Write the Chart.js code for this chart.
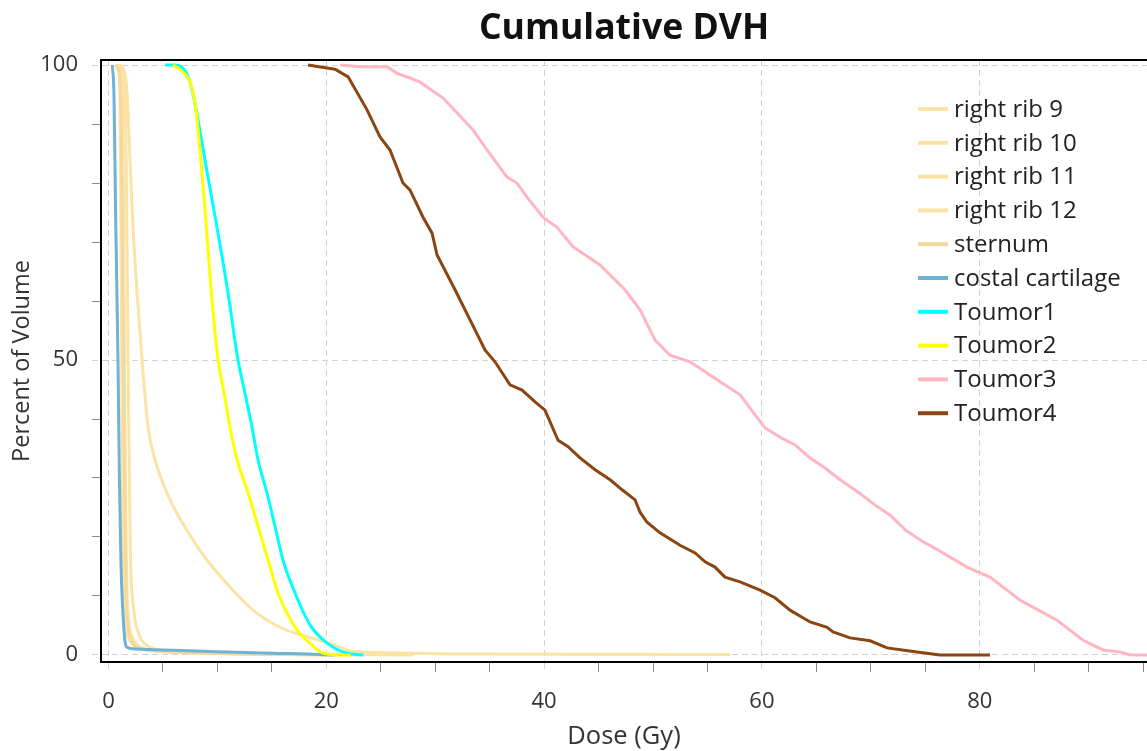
<!DOCTYPE html>
<html>
<head>
<meta charset="utf-8">
<title>Cumulative DVH</title>
<script src="https://cdn.jsdelivr.net/npm/chart.js@4.4.0/dist/chart.umd.min.js"></script>
<style>
  html, body { margin: 0; padding: 0; background: #fff; }
</style>
</head>
<body>
<canvas id="dvh" width="1147" height="751"></canvas>
<script>
// structure names and line colours (legend order)
const seriesNames = ['right rib 9', 'right rib 10', 'right rib 11', 'right rib 12', 'sternum',
    'costal cartilage', 'Toumor1', 'Toumor2', 'Toumor3', 'Toumor4'];
const seriesColors = ['#FBE3A6', '#FBE3A6', '#FBE3A6', '#FBE3A6', '#F4D89E',
    '#6DB3D5', '#00FFFF', '#FFFF00', '#FFB6C1', '#8B4513'];
// smooth organ curves, stepped tumour 3/4 curves
const smoothSeries = [true, true, true, true, true, true, true, true, false, false];

// dose (Gy) / percent volume pairs
const rib9Dose = [0.9, 1.33, 1.7, 1.97, 2.25, 2.62, 3.08, 3.63, 4.27, 5.65, 7.02, 9.04, 11.16, 13.27, 15.75, 18.23, 20.6, 22.2, 24.0, 26.8, 31.4, 45.0, 57.1];
const rib9Vol  = [100, 99.5, 95.3, 83.9, 72.5, 61.4, 50, 38.6, 33.1, 26.3, 21.7, 16.1, 11.5, 7.6, 4.7, 3.1, 1.8, 0.7, 0.45, 0.34, 0.17, 0.12, 0.08];
const rib10Dose = [0.6, 0.9, 1.05, 1.15, 1.25, 1.35, 1.5, 1.8, 2.4, 3.5, 6, 12, 20];
const rib10Vol  = [100, 99, 95, 70, 40, 15, 6, 3, 1.5, 0.9, 0.5, 0.2, 0];
const rib11Dose = [0.75, 1.1, 1.3, 1.4, 1.5, 1.65, 1.85, 2.2, 2.8, 4, 7, 14, 23];
const rib11Vol  = [100, 99, 93, 70, 40, 15, 6, 3, 1.5, 0.8, 0.4, 0.15, 0];
const rib12Dose = [0.9, 1.3, 1.55, 1.7, 1.85, 2.0, 2.3, 2.8, 3.4, 4.5, 8, 16, 28];
const rib12Vol  = [100, 99, 94, 70, 40, 18, 8, 3.5, 1.8, 0.9, 0.4, 0.1, 0];
const sternumDose = [0.65, 0.95, 1.15, 1.3, 1.45, 1.6, 1.8, 2.1, 2.6, 3.8, 7, 13, 21];
const sternumVol  = [100, 99, 92, 65, 35, 12, 5, 2.5, 1.3, 0.8, 0.4, 0.15, 0];
const costalDose = [0.35, 0.5, 0.65, 0.87, 1.0, 1.15, 1.3, 1.5, 1.7, 2.5, 5, 10, 15, 19.5, 20.6];
const costalVol  = [100, 95, 75, 50, 30, 15, 8, 2.5, 1.3, 1.0, 0.85, 0.55, 0.3, 0.1, 0];
const t1Dose = [5.19, 6.1, 7.1, 7.67, 8.86, 9.96, 10.97, 11.89, 12.53, 13.18, 13.73, 14.55, 15.29, 16.02, 17.13, 18.5, 20.07, 21.26, 22.18, 23.4];
const t1Vol  = [100, 100, 98.8, 95.8, 83.9, 72.5, 61.4, 50, 44.4, 38.6, 33.1, 27.5, 21.8, 16.1, 10.5, 5.1, 2.0, 0.7, 0.2, 0];
const t2Dose = [5.92, 6.84, 7.58, 8.03, 8.86, 9.5, 10.06, 10.61, 11.16, 11.8, 12.81, 13.73, 14.65, 15.57, 17.13, 18.5, 19.7, 20.8, 22.2];
const t2Vol  = [100, 98.8, 96.6, 92.4, 75.4, 60.2, 50, 44.4, 38.6, 33.1, 27.5, 21.8, 16.1, 10.5, 4.7, 2.0, 0.3, 0.05, 0];
const t3Dose = [21.26, 23.09, 25.57, 26.49, 27.69, 28.61, 30.72, 32.0, 33.47, 34.76, 36.59, 37.51, 38.43, 39.9, 41.18, 42.65, 45.13, 47.43, 48.81, 50.18, 51.56, 53.4, 54.78, 56.16, 58.0, 59.37, 60.29, 61.67, 63.04, 64.42, 65.8, 67.18, 68.84, 70.4, 71.78, 73.16, 74.54, 76.17, 78.83, 80.94, 83.7, 87.1, 89.49, 91.32, 92.88, 93.8, 95.36];
const t3Vol  = [100, 99.7, 99.7, 98.6, 97.8, 97.1, 94.4, 91.9, 89.0, 85.6, 81.0, 80.0, 77.6, 74.2, 72.5, 69.2, 66.1, 61.9, 58.5, 53.4, 50.8, 49.7, 48.0, 46.3, 44.1, 40.7, 38.5, 36.9, 35.6, 33.4, 31.7, 29.7, 27.6, 25.4, 23.7, 21.2, 19.5, 17.8, 14.9, 13.2, 9.3, 5.9, 2.5, 0.85, 0.5, 0, 0];
const t4Dose = [18.32, 20.06, 20.8, 22.0, 23.74, 24.93, 25.85, 27.04, 27.69, 28.88, 29.71, 30.17, 31.82, 33.2, 34.57, 35.49, 36.87, 37.97, 39.17, 40.08, 41.28, 42.2, 43.3, 44.68, 46.06, 47.16, 48.35, 48.81, 49.45, 50.64, 52.48, 53.86, 54.78, 55.69, 56.61, 57.99, 59.83, 61.2, 62.58, 64.42, 65.98, 66.53, 68.09, 69.93, 71.49, 74.24, 76.35, 80.94];
const t4Vol  = [100, 99.5, 99.3, 98.0, 92.4, 87.8, 85.6, 80.0, 78.8, 74.2, 71.5, 67.8, 61.9, 56.8, 51.7, 49.7, 45.8, 44.9, 42.9, 41.5, 36.4, 35.3, 33.4, 31.4, 29.7, 28.0, 26.3, 24.2, 22.5, 20.7, 18.6, 17.3, 15.8, 14.9, 13.2, 12.4, 11.0, 9.7, 7.6, 5.6, 4.7, 3.9, 2.9, 2.4, 1.2, 0.5, 0, 0];

const seriesDose = [rib9Dose, rib10Dose, rib11Dose, rib12Dose, sternumDose, costalDose, t1Dose, t2Dose, t3Dose, t4Dose];
const seriesVol = [rib9Vol, rib10Vol, rib11Vol, rib12Vol, sternumVol, costalVol, t1Vol, t2Vol, t3Vol, t4Vol];

const xTickValues = [0, 5, 10, 15, 20, 25, 30, 35, 40, 45, 50, 55, 60, 65, 70, 75, 80, 85, 90, 95];
const xLabelValues = [0, 20, 40, 60, 80];
const yTickValues = [0, 10, 20, 30, 40, 50, 60, 70, 80, 90, 100];
const yLabelValues = [0, 50, 100];

const FONT = '"Open Sans", "Noto Sans", sans-serif';
const GRID = '#d2d2d2';

const datasets = seriesNames.map((name, i) => ({
    label: name,
    data: seriesDose[i].map((d, j) => ({ x: d, y: seriesVol[i][j] })),
    borderColor: seriesColors[i],
    backgroundColor: seriesColors[i],
    borderWidth: 3,
    pointRadius: 0,
    cubicInterpolationMode: smoothSeries[i] ? 'monotone' : 'default',
    tension: 0,
    fill: false,
    order: seriesNames.length - i
}));

// legend drawn inside the plot, upper right
const insideLegend = {
    id: 'insideLegend',
    afterDatasetsDraw(chart) {
        const { ctx, chartArea } = chart;
        const x0 = chartArea.left + 817;
        const y0 = chartArea.top + 49;
        const rowH = 33.8;
        ctx.save();
        ctx.font = '24px ' + FONT;
        ctx.textBaseline = 'middle';
        ctx.textAlign = 'left';
        chart.data.datasets.forEach((ds, i) => {
            const y = y0 + i * rowH;
            ctx.strokeStyle = ds.borderColor;
            ctx.lineWidth = 4;
            ctx.beginPath();
            ctx.moveTo(x0, y);
            ctx.lineTo(x0 + 30, y);
            ctx.stroke();
            ctx.fillStyle = '#222';
            ctx.fillText(ds.label, x0 + 36, y + 1);
        });
        ctx.restore();
    }
};

// black frame line on top of the plot
const topBorder = {
    id: 'topBorder',
    afterDraw(chart) {
        const { ctx, chartArea } = chart;
        ctx.save();
        ctx.strokeStyle = '#000';
        ctx.lineWidth = 2;
        ctx.beginPath();
        ctx.moveTo(chartArea.left - 1, chartArea.top);
        ctx.lineTo(chartArea.right, chartArea.top);
        ctx.stroke();
        ctx.restore();
    }
};

new Chart(document.getElementById('dvh'), {
    type: 'line',
    data: { datasets: datasets },
    plugins: [insideLegend, topBorder],
    options: {
        responsive: false,
        animation: false,
        layout: { padding: 0 },
        plugins: {
            legend: { display: false },
            tooltip: { enabled: false },
            title: {
                display: true,
                text: 'Cumulative DVH',
                fullSize: false,
                color: '#111',
                font: { family: FONT, size: 35.6, weight: 'bold', lineHeight: 1.2 },
                padding: { top: 7.6, bottom: 9.7 }
            }
        },
        scales: {
            x: {
                type: 'linear',
                min: -0.69,
                max: 95.36,
                afterBuildTicks: scale => { scale.ticks = xTickValues.map(v => ({ value: v })); },
                afterFit: scale => { scale.height = 89; scale.paddingRight = 0; },
                ticks: {
                    autoSkip: false,
                    maxRotation: 0,
                    padding: 17,
                    color: '#333',
                    font: { family: FONT, size: 22 },
                    callback: v => xLabelValues.includes(v) ? String(v) : ''
                },
                grid: {
                    color: c => c.tick && xLabelValues.includes(c.tick.value) ? GRID : 'rgba(0,0,0,0)',
                    tickColor: c => c.tick && xLabelValues.includes(c.tick.value) ? GRID : '#8a8a8a',
                    tickBorderDash: c => c.tick && xLabelValues.includes(c.tick.value) ? [6, 4] : [],
                    tickLength: 10,
                    lineWidth: 1,
                    borderDash: [6, 4]
                },
                border: { display: true, color: '#000', width: 2, dash: [6, 4] },
                title: {
                    display: true,
                    text: 'Dose (Gy)',
                    color: '#333',
                    font: { family: FONT, size: 25.5, lineHeight: 1 },
                    padding: { top: 0, bottom: 1.2 }
                }
            },
            y: {
                type: 'linear',
                min: -1.19,
                max: 100.85,
                afterBuildTicks: scale => { scale.ticks = yTickValues.map(v => ({ value: v })); },
                afterFit: scale => { scale.width = 101; },
                ticks: {
                    autoSkip: false,
                    padding: 14,
                    color: '#333',
                    font: { family: FONT, size: 22 },
                    callback: v => yLabelValues.includes(v) ? String(v) : ''
                },
                grid: {
                    color: c => c.tick && yLabelValues.includes(c.tick.value) ? GRID : 'rgba(0,0,0,0)',
                    tickColor: c => c.tick && yLabelValues.includes(c.tick.value) ? GRID : '#8a8a8a',
                    tickBorderDash: c => c.tick && yLabelValues.includes(c.tick.value) ? [6, 4] : [],
                    tickLength: 9,
                    lineWidth: 1,
                    borderDash: [6, 4]
                },
                border: { display: true, color: '#000', width: 2, dash: [6, 4] },
                title: {
                    display: true,
                    text: 'Percent of Volume',
                    color: '#333',
                    font: { family: FONT, size: 23.5, lineHeight: 1 },
                    padding: { top: 10.2, bottom: 0 }
                }
            }
        }
    }
});
</script>
</body>
</html>
